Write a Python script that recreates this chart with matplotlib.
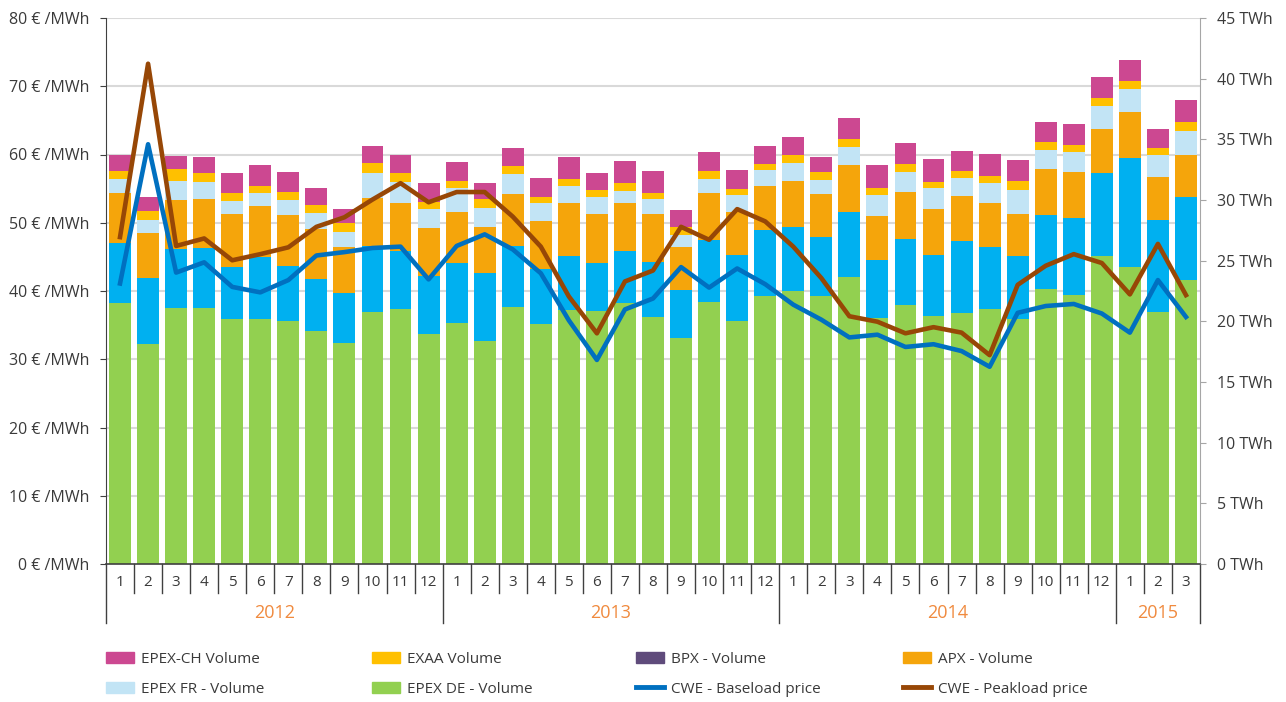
import matplotlib
matplotlib.use("Agg")
from matplotlib import pyplot as plt
from matplotlib.transforms import blended_transform_factory
from matplotlib.patches import Patch
from matplotlib.lines import Line2D

plt.rcParams['font.family'] = ['Open Sans', 'DejaVu Sans']

months = ['1', '2', '3', '4', '5', '6', '7', '8', '9', '10', '11', '12'] * 3 + ['1', '2', '3']
years = ['2012', '2013', '2014', '2015']
year_len = [12, 12, 12, 3]

# volumes, TWh
epex_de = [21.54, 18.13, 21.12, 21.12, 20.22, 20.19, 20.05, 19.23, 18.21, 20.74, 21.02, 18.93,
           19.86, 18.38, 21.18, 19.81, 20.91, 20.85, 21.49, 20.38, 18.63, 21.59, 20.03, 22.11,
           22.50, 22.09, 23.65, 20.30, 21.35, 20.44, 20.66, 20.99, 20.19, 22.69, 22.17, 25.36,
           24.48, 20.77, 23.41]
other_vol = [4.95, 5.41, 4.81, 4.90, 4.26, 5.13, 4.53, 4.26, 4.10, 5.46, 4.81, 4.83,
             4.95, 5.60, 5.03, 4.51, 4.50, 3.96, 4.31, 4.53, 3.96, 5.13, 5.44, 5.41,
             5.25, 4.86, 5.33, 4.78, 5.46, 5.05, 5.93, 5.11, 5.22, 6.07, 6.37, 6.87,
             8.96, 7.61, 6.84]
apx = [4.12, 3.76, 4.06, 4.04, 4.39, 4.18, 4.20, 4.15, 3.82, 3.98, 3.96, 3.96,
       4.20, 3.79, 4.31, 3.98, 4.37, 4.04, 3.96, 3.96, 3.52, 3.85, 3.54, 3.63,
       3.82, 3.54, 3.90, 3.60, 3.85, 3.79, 3.73, 3.65, 3.44, 3.77, 3.77, 3.63,
       3.82, 3.52, 3.46]
bpx = [0.0] * 39
epex_fr = [1.10, 1.05, 1.59, 1.43, 1.05, 1.07, 1.21, 1.27, 1.26, 2.01, 1.71, 1.54,
           2.00, 1.59, 1.60, 1.46, 1.35, 1.38, 0.99, 1.21, 1.01, 1.15, 1.38, 1.29,
           1.51, 1.15, 1.48, 1.73, 1.67, 1.71, 1.46, 1.62, 1.95, 1.59, 1.62, 1.90,
           1.90, 1.81, 2.00]
exaa = [0.71, 0.74, 0.96, 0.74, 0.66, 0.60, 0.68, 0.68, 0.69, 0.82, 0.72, 0.60,
        0.55, 0.72, 0.71, 0.52, 0.60, 0.58, 0.63, 0.49, 0.66, 0.68, 0.54, 0.49,
        0.61, 0.63, 0.63, 0.60, 0.63, 0.49, 0.60, 0.58, 0.74, 0.66, 0.63, 0.68,
        0.66, 0.58, 0.72]
epex_ch = [1.29, 1.13, 1.10, 1.32, 1.62, 1.71, 1.62, 1.40, 1.18, 1.43, 1.51, 1.52,
           1.54, 1.29, 1.43, 1.57, 1.81, 1.45, 1.86, 1.81, 1.40, 1.52, 1.52, 1.53,
           1.51, 1.26, 1.73, 1.87, 1.76, 1.87, 1.65, 1.86, 1.76, 1.62, 1.73, 1.71,
           1.73, 1.54, 1.81]

# prices, EUR/MWh
baseload = [41.1, 61.5, 42.7, 44.2, 40.6, 39.8, 41.6, 45.2, 45.7, 46.3, 46.5, 41.7,
            46.6, 48.3, 46.1, 42.6, 35.7, 29.9, 37.3, 38.9, 43.5, 40.5, 43.3, 41.0,
            38.0, 35.8, 33.2, 33.6, 31.8, 32.2, 31.2, 28.9, 36.8, 37.8, 38.1, 36.7,
            33.9, 41.6, 36.2]
peakload = [47.9, 73.3, 46.6, 47.7, 44.5, 45.4, 46.4, 49.4, 50.8, 53.4, 55.8, 53.0,
            54.5, 54.5, 50.9, 46.5, 39.2, 33.8, 41.4, 43.0, 49.4, 47.5, 52.0, 50.2,
            46.5, 41.9, 36.3, 35.5, 33.8, 34.7, 33.9, 30.6, 40.9, 43.7, 45.4, 44.1,
            39.5, 46.9, 39.4]

c_ch = '#CC4891'
c_exaa = '#FFC000'
c_bpx = '#5F4B7B'
c_apx = '#F5A50B'
c_fr = '#C2E4F5'
c_de = '#92D050'
c_other = '#00B0F0'
c_base = '#0070C0'
c_peak = '#974706'
txt = '#3A3A3A'

fig = plt.figure(figsize=(12.86, 7.02), dpi=100)
ax = fig.add_axes([106 / 1286, 1 - 564 / 702, (1200 - 106) / 1286, 546 / 702])  # volumes
ax2 = ax.twinx()  # prices

x = list(range(len(months)))
w = 0.78
bottom = [0.0] * len(x)
for vals, col in [(epex_de, c_de), (other_vol, c_other), (apx, c_apx), (bpx, c_bpx),
                  (epex_fr, c_fr), (exaa, c_exaa), (epex_ch, c_ch)]:
    ax.bar(x, vals, w, bottom=bottom, color=col, zorder=2)
    bottom = [b + v for b, v in zip(bottom, vals)]

ax2.plot(x, baseload, color=c_base, lw=3.3, solid_joinstyle='round')
ax2.plot(x, peakload, color=c_peak, lw=3.3, solid_joinstyle='round')

ax.set_xlim(-0.5, 38.5)
ax.set_ylim(0, 45)
ax2.set_ylim(0, 80)

# gridlines at price ticks, behind the bars
eur_ticks = list(range(0, 90, 10))
gtr = blended_transform_factory(ax.transAxes, ax2.transData)
ax.hlines(eur_ticks[1:], 0, 1, transform=gtr, color='#D9D9D9', lw=1.5, zorder=0)

# right axis (volume) on ax, left axis (price) on ax2
ax.yaxis.tick_right()
ax.set_yticks(range(0, 50, 5))
ax.set_yticklabels([f'{v} TWh' for v in range(0, 50, 5)])
ax2.yaxis.tick_left()
ax2.set_yticks(eur_ticks)
ax2.set_yticklabels([f'{v} € /MWh' for v in eur_ticks])
ax.tick_params(axis='y', length=4, color='#A6A6A6', labelsize=11.5, labelcolor=txt, pad=8)
ax2.tick_params(axis='y', length=4, color='#404040', labelsize=11.5, labelcolor=txt, pad=8)

for a in (ax, ax2):
    for s in ('top', 'bottom', 'left', 'right'):
        a.spines[s].set_visible(False)
ax2.spines['left'].set_visible(True)
ax2.spines['left'].set_color('#404040')
ax.spines['right'].set_visible(True)
ax.spines['right'].set_color('#A6A6A6')

# category axis
ax.set_xticks([])
ax2.set_xticks([])
xtr = ax.get_xaxis_transform()
ax.plot([-0.5, 38.5], [0, 0], transform=xtr, color='#404040', lw=1.2, clip_on=False, zorder=5)
year_edges = [-0.5]
for n in year_len:
    year_edges.append(year_edges[-1] + n)
for i in range(len(x) - 1):
    e = i + 0.5
    if e in year_edges:
        continue
    ax.plot([e, e], [0, -0.053], transform=xtr, color='#404040', lw=1, clip_on=False)
for e in year_edges:
    ax.plot([e, e], [0, -0.108], transform=xtr, color='#404040', lw=1, clip_on=False)
for i, m in enumerate(months):
    ax.text(i, -0.033, m, transform=xtr, ha='center', va='center', fontsize=11, color=txt)
for k, yr in enumerate(years):
    mid = (year_edges[k] + year_edges[k + 1]) / 2
    ax.text(mid, -0.09, yr, transform=xtr, ha='center', va='center', fontsize=13, color='#F08A3E')

# legend, four columns of two rows
cols = [
    [(Patch(color=c_ch), 'EPEX-CH Volume'), (Patch(color=c_fr), 'EPEX FR - Volume')],
    [(Patch(color=c_exaa), 'EXAA Volume'), (Patch(color=c_de), 'EPEX DE - Volume')],
    [(Patch(color=c_bpx), 'BPX - Volume'), (Line2D([], [], color=c_base, lw=3.5), 'CWE - Baseload price')],
    [(Patch(color=c_apx), 'APX - Volume'), (Line2D([], [], color=c_peak, lw=3.5), 'CWE - Peakload price')],
]
col_x = [106, 372, 636, 903]
for cx, items in zip(col_x, cols):
    fig.legend([h for h, _ in items], [l for _, l in items], loc='upper left',
               bbox_to_anchor=(cx / 1286, 1 - 652 / 702), frameon=False, fontsize=11,
               labelcolor=txt, handlelength=1.85, handleheight=0.7, handletextpad=0.45,
               labelspacing=0.95, borderpad=0, borderaxespad=0)

fig.savefig('out.png', dpi=100)
